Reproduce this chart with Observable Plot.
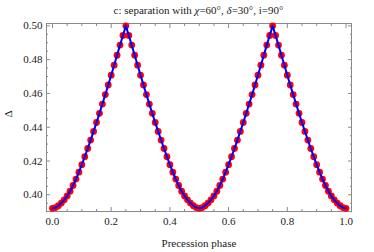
<!DOCTYPE html>
<html>
<head>
<meta charset="utf-8">
<script src="https://cdn.jsdelivr.net/npm/d3@7"></script>
<script src="https://cdn.jsdelivr.net/npm/@observablehq/plot@0.6"></script>
<style>
  body { margin: 0; background: #fff; }
  #title { width: 351px; padding-left: 23px; height: 20px; line-height: 20px; text-align: center;
           font-family: "Liberation Serif", "DejaVu Serif", serif; font-size: 11px; color: #222; }
  #chart svg { display: block; }
</style>
</head>
<body>
<div id="title">c: separation with <i>χ</i>=60°, <i>δ</i>=30°, i=90°</div>
<div id="chart"></div>
<script>
const phase = [0.00,0.01,0.02,0.03,0.04,0.05,0.06,0.07,0.08,0.09,0.10,0.11,0.12,0.13,0.14,0.15,0.16,0.17,0.18,0.19,0.20,0.21,0.22,0.23,0.24,0.25,0.26,0.27,0.28,0.29,0.30,0.31,0.32,0.33,0.34,0.35,0.36,0.37,0.38,0.39,0.40,0.41,0.42,0.43,0.44,0.45,0.46,0.47,0.48,0.49,0.50,0.51,0.52,0.53,0.54,0.55,0.56,0.57,0.58,0.59,0.60,0.61,0.62,0.63,0.64,0.65,0.66,0.67,0.68,0.69,0.70,0.71,0.72,0.73,0.74,0.75,0.76,0.77,0.78,0.79,0.80,0.81,0.82,0.83,0.84,0.85,0.86,0.87,0.88,0.89,0.90,0.91,0.92,0.93,0.94,0.95,0.96,0.97,0.98,0.99,1.00];
const separation = [
  0.3920,0.3924,0.3935,0.3951,0.3970,0.3993,0.4021,0.4055,0.4093,0.4134,0.4178,0.4225,0.4274,0.4324,0.4375,0.4428,0.4482,0.4537,0.4593,0.4650,0.4708,0.4767,0.4826,0.4886,0.4943,0.5000,
  0.4943,0.4886,0.4826,0.4767,0.4708,0.4650,0.4593,0.4537,0.4482,0.4428,0.4375,0.4324,0.4274,0.4225,0.4178,0.4134,0.4093,0.4055,0.4021,0.3993,0.3970,0.3951,0.3935,0.3924,0.3920,
  0.3924,0.3935,0.3951,0.3970,0.3993,0.4021,0.4055,0.4093,0.4134,0.4178,0.4225,0.4274,0.4324,0.4375,0.4428,0.4482,0.4537,0.4593,0.4650,0.4708,0.4767,0.4826,0.4886,0.4943,0.5000,
  0.4943,0.4886,0.4826,0.4767,0.4708,0.4650,0.4593,0.4537,0.4482,0.4428,0.4375,0.4324,0.4274,0.4225,0.4178,0.4134,0.4093,0.4055,0.4021,0.3993,0.3970,0.3951,0.3935,0.3924,0.3920
];
const xMajor = [0, 0.2, 0.4, 0.6, 0.8, 1.0];
const xTickLabels = ["0.0", "0.2", "0.4", "0.6", "0.8", "1.0"];
const xMinor = [0.05,0.1,0.15,0.25,0.3,0.35,0.45,0.5,0.55,0.65,0.7,0.75,0.85,0.9,0.95];
const yMajor = [0.40, 0.42, 0.44, 0.46, 0.48, 0.50];
const yTickLabels = ["0.40", "0.42", "0.44", "0.46", "0.48", "0.50"];
const yMinor = [0.390,0.395,0.405,0.410,0.415,0.425,0.430,0.435,0.445,0.450,0.455,0.465,0.470,0.475,0.485,0.490,0.495];
const xLabel = "Precession phase";
const yLabel = "Δ";

const data = phase.map((p, i) => ({phase: p, sep: separation[i]}));
const xTicks = xMajor.map((v, i) => ({v, label: xTickLabels[i]}));
const yTicks = yMajor.map((v, i) => ({v, label: yTickLabels[i]}));
const blank = () => "";
const tickColor = "#8a8a8a";

const chart = Plot.plot({
  width: 374,
  height: 232,
  marginTop: 3,
  marginLeft: 46,
  marginRight: 23,
  marginBottom: 41,
  style: {fontFamily: "'Liberation Serif', 'DejaVu Serif', serif", fontSize: "11px", color: "#222", background: "#fff"},
  x: {domain: [-0.0204, 1.0187]},
  y: {domain: [0.3901, 0.5014]},
  marks: [
    Plot.frame({stroke: tickColor}),
    Plot.text(xTicks, {x: "v", text: "label", frameAnchor: "bottom", lineAnchor: "top", dy: 6, fontSize: 11, fill: "#222"}),
    Plot.text(yTicks, {y: "v", text: "label", frameAnchor: "left", textAnchor: "end", dx: -4, fontSize: 11, fill: "#222"}),
    Plot.axisX(xMajor, {anchor: "bottom", tickSize: -4, tickFormat: blank, label: null, stroke: tickColor}),
    Plot.axisX(xMinor, {anchor: "bottom", tickSize: -2, tickFormat: blank, label: null, stroke: tickColor}),
    Plot.axisX(xMajor, {anchor: "top", tickSize: -4, tickFormat: blank, label: null, stroke: tickColor}),
    Plot.axisX(xMinor, {anchor: "top", tickSize: -2, tickFormat: blank, label: null, stroke: tickColor}),
    Plot.axisY(yMajor, {anchor: "left", tickSize: -4, tickFormat: blank, label: null, stroke: tickColor}),
    Plot.axisY(yMinor, {anchor: "left", tickSize: -2, tickFormat: blank, label: null, stroke: tickColor}),
    Plot.axisY(yMajor, {anchor: "right", tickSize: -4, tickFormat: blank, label: null, stroke: tickColor}),
    Plot.axisY(yMinor, {anchor: "right", tickSize: -2, tickFormat: blank, label: null, stroke: tickColor}),
    Plot.dot(data, {x: "phase", y: "sep", r: 3.4, fill: "#ff0000", stroke: null}),
    Plot.line(data, {x: "phase", y: "sep", stroke: "#0000ff", strokeWidth: 2}),
    Plot.text([xLabel], {frameAnchor: "bottom", dy: 35, fontSize: 11, fill: "#222"}),
    Plot.text([yLabel], {frameAnchor: "left", dx: -38, rotate: -90, fontSize: 11, fill: "#222"})
  ]
});
document.getElementById("chart").appendChild(chart);
</script>
</body>
</html>
